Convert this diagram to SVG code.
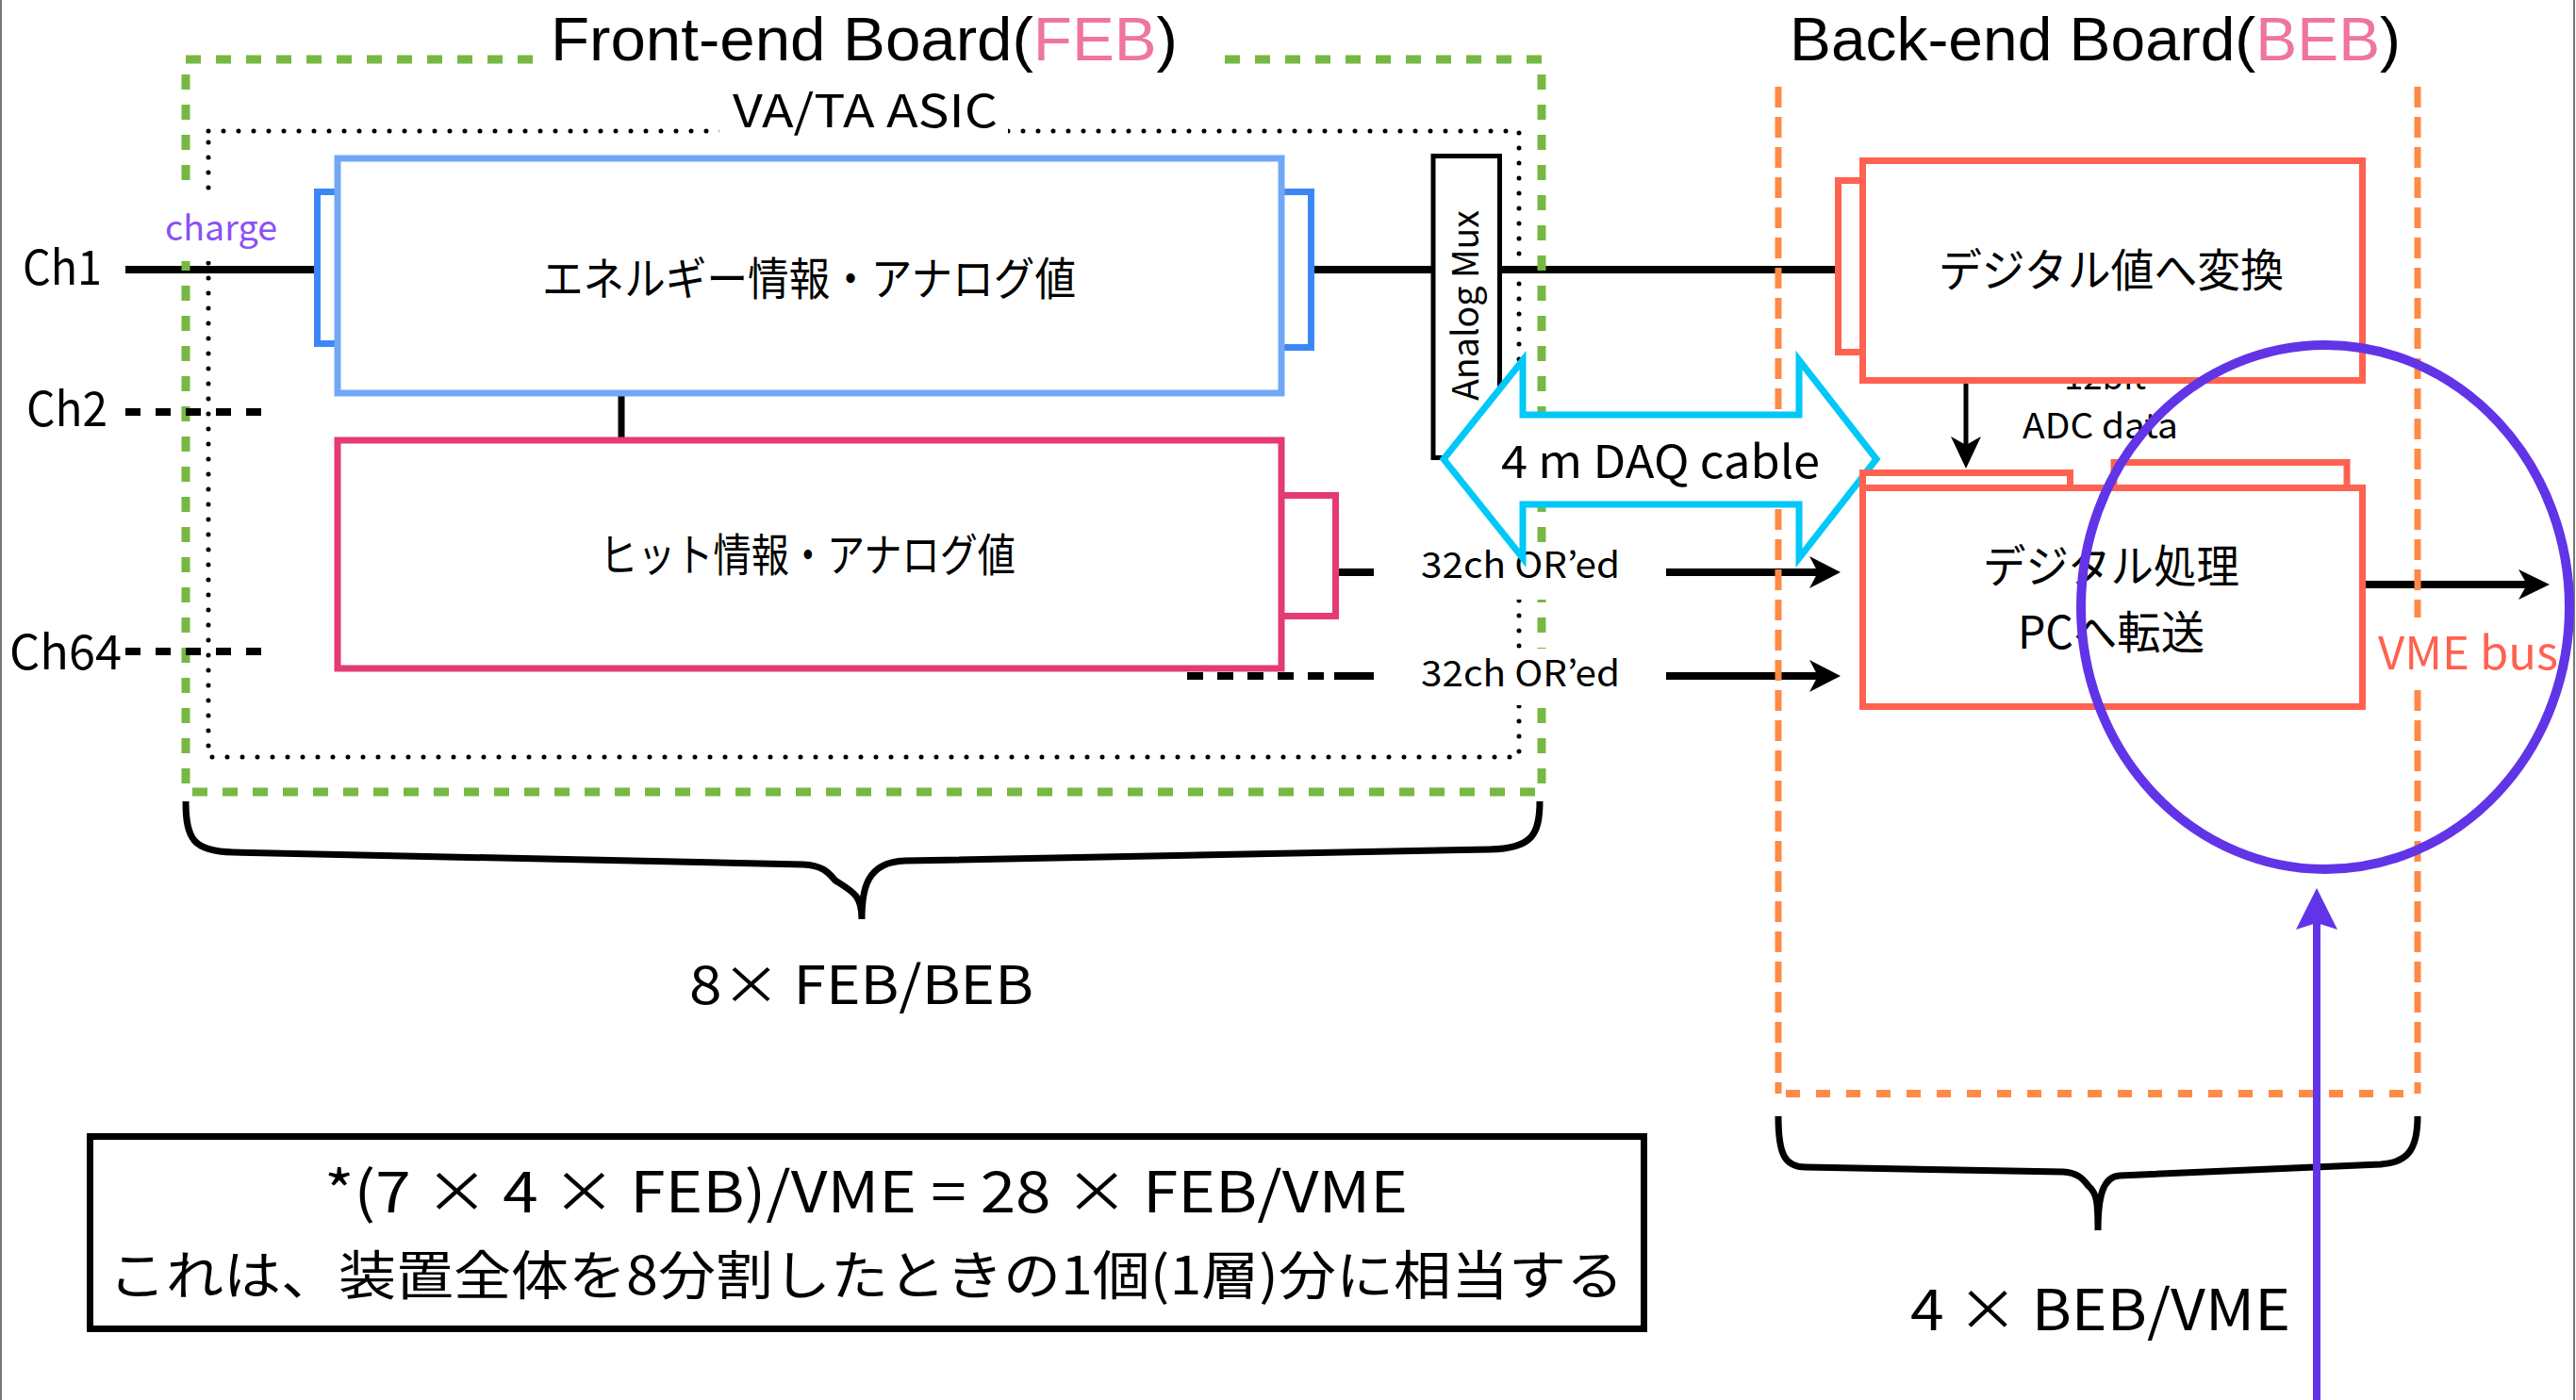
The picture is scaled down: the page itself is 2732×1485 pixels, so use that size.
<svg xmlns="http://www.w3.org/2000/svg" width="2732" height="1485" viewBox="0 0 2732 1485">
<style>
.t{font-family:"Noto Sans CJK JP","Noto Sans",sans-serif;fill:#000}
.h{font-family:"Liberation Sans","Noto Sans",sans-serif;fill:#000}
.ln{stroke:#000;fill:none}
.ah{fill:#000;stroke:none}
.bg{fill:#fff;stroke:none}
.rb{fill:#fff;stroke:#FF6250;stroke-width:7}
</style>
<rect x="0" y="0" width="2732" height="1485" fill="#fff"/>
<line x1="1" y1="0" x2="1" y2="1485" stroke="#777" stroke-width="2"/>
<line x1="2730" y1="0" x2="2730" y2="1485" stroke="#777" stroke-width="2"/>

<g id="connectors">
  <path class="ln" stroke-width="8" d="M133,286 H340 M1392,286 H1520 M1590,286 H1950"/>
  <line x1="1969" y1="263" x2="1969" y2="298" stroke="#333" stroke-width="3"/>
  <path class="ln" stroke-width="7" d="M659,417 V467"/>
  <path class="ln" stroke-width="8" d="M1418,607 H1457"/>
  <path class="ln" stroke-width="8" stroke-dasharray="17 15" d="M1259,717 H1404"/>
  <path class="ln" stroke-width="8" d="M1415,717 H1457"/>
  <path class="ln" stroke-width="8" d="M1767,607 H1930 M1767,717 H1930"/>
  <polygon class="ah" points="1952,607 1919,590 1928,607 1919,624"/>
  <polygon class="ah" points="1952,717 1919,700 1928,717 1919,734"/>
  <path class="ln" stroke-width="5" d="M2085,403 V476"/>
  <polygon class="ah" points="2085,497 2069,463 2085,472 2101,463"/>
  <path class="ln" stroke-width="8" d="M2505,620 H2682"/>
  <polygon class="ah" points="2704,620 2671,604 2680,620 2671,636"/>
</g>

<g id="ch-labels">
  <text class="t" x="24" y="302" font-size="50" textLength="84" lengthAdjust="spacingAndGlyphs">Ch1</text>
  <text class="t" x="28" y="452" font-size="50" textLength="86" lengthAdjust="spacingAndGlyphs">Ch2</text>
  <text class="t" x="10" y="710" font-size="50" textLength="119" lengthAdjust="spacingAndGlyphs">Ch64</text>
</g>

<g id="feb-board">
  <path fill="none" stroke="#77B843" stroke-width="9" stroke-dasharray="16 16" d="M565,63 H197 V840 H1635 V63 H1285"/>
  <rect class="bg" x="565" y="20" width="720" height="75"/>
  <text class="h" x="584" y="64" font-size="64" textLength="665" lengthAdjust="spacingAndGlyphs">Front-end Board(<tspan fill="#EF75A0">FEB</tspan>)</text>
</g>

<g id="asic">
  <rect x="221" y="139" width="1390" height="664" fill="none" stroke="#000" stroke-width="5" stroke-dasharray="0 16" stroke-linecap="round"/>
  <rect class="bg" x="763" y="98" width="306" height="52"/>
  <text class="t" x="777" y="135" font-size="48" textLength="281" lengthAdjust="spacingAndGlyphs">VA/TA ASIC</text>
</g>

<g id="ch-lines">
  <path class="ln" stroke-width="8" stroke-dasharray="16 16" d="M133,437 H278 M133,691 H278"/>
</g>

<g id="charge-label">
  <rect class="bg" x="170" y="205" width="130" height="72"/>
  <text class="t" x="175" y="255" font-size="37" textLength="119" lengthAdjust="spacingAndGlyphs" style="fill:#8C50F5">charge</text>
</g>

<g id="energy">
  <rect x="336.5" y="203.5" width="24" height="161" fill="#fff" stroke="#3C87F6" stroke-width="7"/>
  <rect x="1355" y="203.5" width="35.5" height="165" fill="#fff" stroke="#3C87F6" stroke-width="7"/>
  <rect x="358" y="168" width="1001" height="249" fill="#fff" stroke="#72A7F8" stroke-width="7"/>
  <text class="t" x="575" y="313" font-size="48" textLength="566" lengthAdjust="spacingAndGlyphs">エネルギー情報・アナログ値</text>
</g>

<g id="hit">
  <rect x="1355" y="525.5" width="61.5" height="128" fill="#fff" stroke="#E43A76" stroke-width="7"/>
  <rect x="358" y="467" width="1001" height="242" fill="#fff" stroke="#E43A76" stroke-width="7"/>
  <text class="t" x="636" y="606" font-size="48" textLength="441" lengthAdjust="spacingAndGlyphs">ヒット情報・アナログ値</text>
</g>

<g id="beb-board">
  <path fill="none" stroke="#FF8A45" stroke-width="7" stroke-dasharray="22 10" d="M1886,92 V1160 M2564,92 V1160"/>
  <path fill="none" stroke="#FF8A45" stroke-width="8" stroke-dasharray="15 17" d="M1894,1160 H2564"/>
  <text class="h" x="1898" y="64" font-size="64" textLength="648" lengthAdjust="spacingAndGlyphs">Back-end Board(<tspan fill="#EF75A0">BEB</tspan>)</text>
</g>

<g id="or-labels">
  <rect class="bg" x="1462" y="578" width="300" height="58"/>
  <text class="t" x="1507" y="613" font-size="38" textLength="211" lengthAdjust="spacingAndGlyphs">32ch OR’ed</text>
  <rect class="bg" x="1462" y="688" width="300" height="60"/>
  <text class="t" x="1507" y="728" font-size="38" textLength="211" lengthAdjust="spacingAndGlyphs">32ch OR’ed</text>
</g>

<g id="mux">
  <rect x="1520" y="165.5" width="70.5" height="320" fill="#fff" stroke="#000" stroke-width="5"/>
  <text class="t" transform="translate(1568,324) rotate(-90)" x="0" y="0" font-size="38" text-anchor="middle" textLength="202" lengthAdjust="spacingAndGlyphs">Analog Mux</text>
</g>

<g id="daq-cable">
  <polygon points="1531,487 1615,382 1615,440 1908,440 1908,382 1990,487 1908,592 1908,535 1615,535 1615,592" fill="#fff" stroke="#00C8F8" stroke-width="7" stroke-linejoin="miter"/>
  <text class="t" x="1592" y="507" font-size="48" textLength="338" lengthAdjust="spacingAndGlyphs">4 m DAQ cable</text>
</g>

<g id="adc">
  <text class="t" x="2189" y="413" font-size="37" textLength="87" lengthAdjust="spacingAndGlyphs">12bit</text>
  <rect class="rb" x="1949.5" y="191.5" width="26" height="182"/>
  <rect class="rb" x="1975.5" y="170.5" width="530" height="233"/>
  <text class="t" x="2056" y="304" font-size="48" textLength="366" lengthAdjust="spacingAndGlyphs">デジタル値へ変換</text>
  <text class="t" x="2145" y="465" font-size="37" textLength="165" lengthAdjust="spacingAndGlyphs">ADC data</text>
</g>

<g id="processing">
  <rect class="rb" x="1975.5" y="501.5" width="220" height="30"/>
  <rect class="rb" x="2242" y="490.5" width="247" height="40"/>
  <rect class="rb" x="1975.5" y="517.5" width="530" height="232"/>
  <text class="t" x="2103" y="618" font-size="48" textLength="272" lengthAdjust="spacingAndGlyphs">デジタル処理</text>
  <text class="t" x="2140" y="688" font-size="48" textLength="198" lengthAdjust="spacingAndGlyphs">PCへ転送</text>
</g>

<g id="vme-bus">
  <rect class="bg" x="2516" y="655" width="205" height="74"/>
  <text class="t" x="2522" y="710" font-size="48" textLength="191" lengthAdjust="spacingAndGlyphs" style="fill:#FF6250">VME bus</text>
</g>

<g id="braces">
  <path class="ln" stroke-width="7" d="M197,850 C197,890 205,903 247,904 L852,917 C875,918 880,928 886,934 C905,946 914,950 914,975 C914,945 918,914 960,913 L1580,901 C1625,900 1633,885 1633,850"/>
  <text class="t" x="731" y="1065" font-size="56" textLength="365" lengthAdjust="spacingAndGlyphs">8× FEB/BEB</text>
  <path class="ln" stroke-width="7" d="M1886,1184 C1886,1225 1893,1238 1915,1238 L2188,1243 C2205,1244 2210,1252 2215,1258 C2224,1266 2225,1275 2225,1305 C2225,1270 2230,1248 2248,1247 L2525,1235 C2553,1233 2564,1220 2564,1184"/>
  <text class="t" x="2026" y="1411" font-size="60" textLength="403" lengthAdjust="spacingAndGlyphs">4 × BEB/VME</text>
</g>

<g id="note">
  <rect x="95.5" y="1205.5" width="1648" height="204" fill="#fff" stroke="#000" stroke-width="7"/>
  <text class="t" x="344" y="1286" font-size="60" textLength="1149" lengthAdjust="spacingAndGlyphs">*(7 × 4 × FEB)/VME = 28 × FEB/VME</text>
  <text class="t" x="115" y="1373" font-size="56" textLength="1607" lengthAdjust="spacingAndGlyphs">これは、装置全体を8分割したときの1個(1層)分に相当する</text>
</g>

<g id="highlight">
  <ellipse cx="2466" cy="644" rx="259" ry="278" fill="none" stroke="#6234E8" stroke-width="10"/>
  <path stroke="#6234E8" stroke-width="8" fill="none" d="M2457,1485 V975"/>
  <polygon fill="#6234E8" points="2457,942 2435,986 2457,979 2479,986"/>
</g>
</svg>
